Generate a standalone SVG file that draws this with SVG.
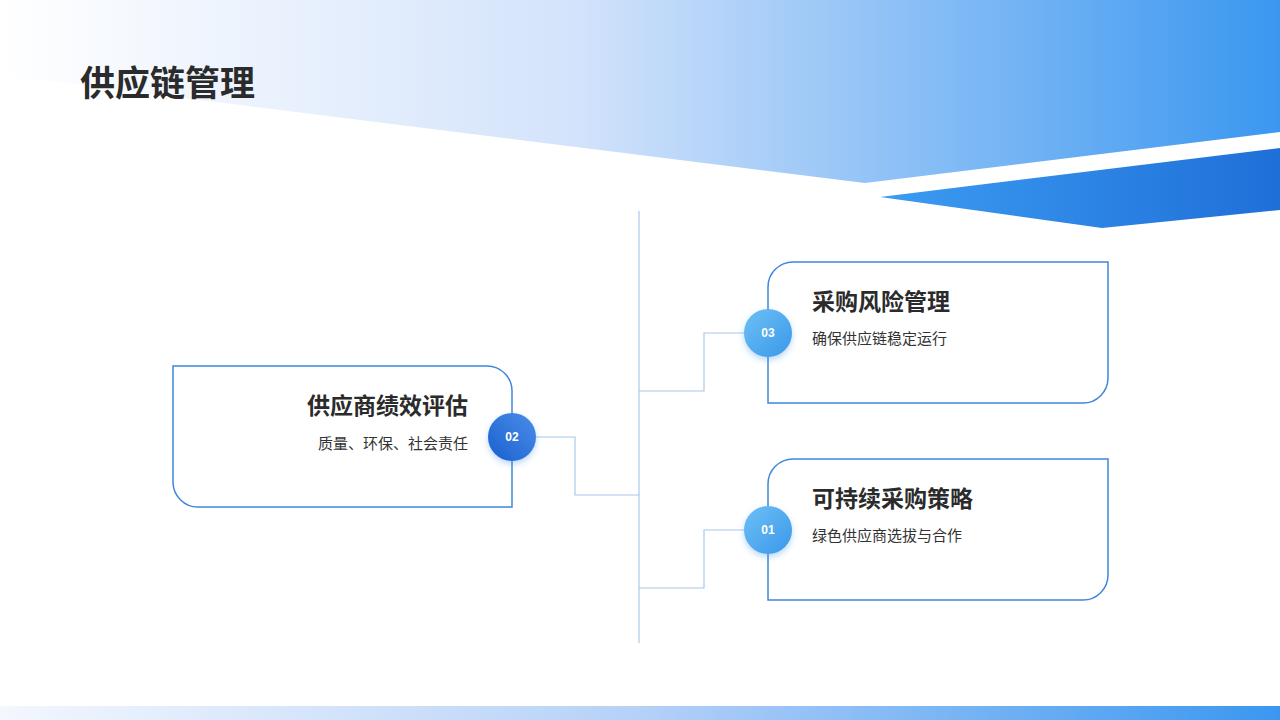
<svg xmlns="http://www.w3.org/2000/svg" width="1280" height="720" viewBox="0 0 1280 720">
<defs>
<linearGradient id="top" x1="0" y1="0" x2="1" y2="0"><stop offset="0" stop-color="#ffffff"/><stop offset="0.45" stop-color="#d3e3fb"/><stop offset="1" stop-color="#3a97f0"/></linearGradient>
<linearGradient id="wedge" x1="0" y1="0" x2="1" y2="0"><stop offset="0" stop-color="#3c9cf2"/><stop offset="1" stop-color="#1f6fd8"/></linearGradient>
<linearGradient id="bot" x1="0" y1="0" x2="1" y2="0"><stop offset="0" stop-color="#f3f7fe"/><stop offset="0.5" stop-color="#b5d1f8"/><stop offset="1" stop-color="#3a97f0"/></linearGradient>
<linearGradient id="c2" x1="0" y1="1" x2="1" y2="0"><stop offset="0" stop-color="#1a5fd0"/><stop offset="1" stop-color="#4a8ee8"/></linearGradient>
<linearGradient id="c1" x1="0" y1="0" x2="1" y2="1"><stop offset="0" stop-color="#6ec0f5"/><stop offset="1" stop-color="#3a98ea"/></linearGradient>
<filter id="sh" x="-50%" y="-50%" width="200%" height="200%"><feDropShadow dx="0" dy="3" stdDeviation="3" flood-color="#3a8ee8" flood-opacity="0.35"/></filter>
<style>
.box{fill:#fff;stroke:#3f86dc;stroke-width:1.5}
.con{fill:none;stroke:#a9c8ea;stroke-width:1.2}
.t{font-family:"Noto Sans CJK SC","Noto Sans",sans-serif;font-weight:700;font-size:23px;fill:#2b2b2b}
.s{font-family:"Noto Sans CJK SC","Noto Sans",sans-serif;font-size:15px;fill:#333}
.n{font-family:"Liberation Sans",Arial,sans-serif;font-weight:700;font-size:12px;fill:#fff}
</style>
</defs>
<rect width="1280" height="720" fill="#fff"/>
<polygon points="0,0 1280,0 1280,132 865,183 0,75" fill="url(#top)"/>
<polygon points="880,197 1280,148 1280,210 1102,228" fill="url(#wedge)"/>
<rect x="0" y="706" width="1280" height="14" fill="url(#bot)"/>
<text x="80" y="96" font-family="Noto Sans CJK SC,sans-serif" font-weight="700" font-size="35" fill="#2b2b2b">供应链管理</text>
<g id="connectors">
<line class="con" x1="639" y1="211" x2="639" y2="643"/>
<polyline class="con" points="536,437 575,437 575,495 639,495"/>
<polyline class="con" points="744,333 704,333 704,391 639,391"/>
<polyline class="con" points="744,530 704,530 704,588 639,588"/>
</g>
<g id="node02">
<path class="box" d="M173,366 H487 A25,25 0 0 1 512,391 V507 H198 A25,25 0 0 1 173,482 Z"/>
<text class="t" x="468" y="414" text-anchor="end">供应商绩效评估</text>
<text class="s" x="468" y="449" text-anchor="end">质量、环保、社会责任</text>
<circle cx="512" cy="437" r="24" fill="url(#c2)" filter="url(#sh)"/>
<text class="n" x="512" y="441" text-anchor="middle">02</text>
</g>
<g id="node03">
<path class="box" d="M793,262 H1108 V378 A25,25 0 0 1 1083,403 H768 V287 A25,25 0 0 1 793,262 Z"/>
<text class="t" x="812" y="310">采购风险管理</text>
<text class="s" x="812" y="344">确保供应链稳定运行</text>
<circle cx="768" cy="333" r="24" fill="url(#c1)" filter="url(#sh)"/>
<text class="n" x="768" y="337" text-anchor="middle">03</text>
</g>
<g id="node01">
<path class="box" d="M793,459 H1108 V575 A25,25 0 0 1 1083,600 H768 V484 A25,25 0 0 1 793,459 Z"/>
<text class="t" x="812" y="507">可持续采购策略</text>
<text class="s" x="812" y="541">绿色供应商选拔与合作</text>
<circle cx="768" cy="530" r="24" fill="url(#c1)" filter="url(#sh)"/>
<text class="n" x="768" y="534" text-anchor="middle">01</text>
</g>
</svg>
